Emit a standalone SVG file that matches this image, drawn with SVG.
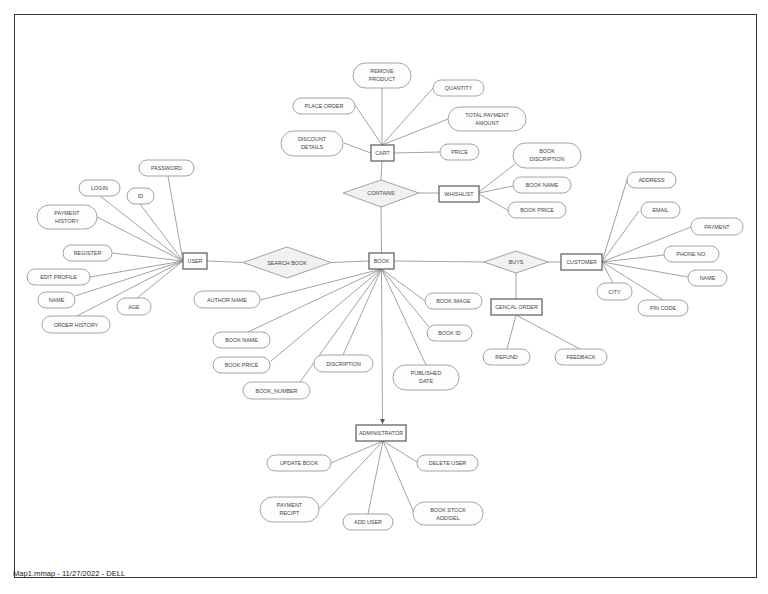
<svg xmlns="http://www.w3.org/2000/svg" width="768" height="594" viewBox="0 0 768 594">
<style>
.bg{fill:#ffffff}
.frame{fill:none;stroke:#333;stroke-width:1}
.pill{fill:#fdfdfd;stroke:#9a9a9a;stroke-width:0.9}
.ent{fill:#ffffff;stroke:#666;stroke-width:1.3}
.rel{fill:#f1f1f1;stroke:#9a9a9a;stroke-width:0.9}
.ln{stroke:#8a8a8a;stroke-width:0.8;fill:none}
text{font-family:"Liberation Sans",Arial,sans-serif;font-size:5.4px;fill:#444;text-anchor:middle}
.foot{font-size:7.6px;fill:#222;text-anchor:start}
</style>
<defs>
<marker id="arr" markerWidth="6" markerHeight="6" refX="5" refY="3" orient="auto" markerUnits="userSpaceOnUse">
<path d="M0,0.5 L5,3 L0,5.5 Z" fill="#555"/>
</marker>
</defs>
<rect class="bg" x="0" y="0" width="768" height="594"/>
<rect class="frame" x="14.5" y="14.5" width="742" height="563"/>
<text class="foot" x="13" y="576">Map1.mmap - 11/27/2022 - DELL</text>

<g id="connectors">
<!-- cart -->
<line class="ln" x1="382" y1="88" x2="382" y2="145"/>
<line class="ln" x1="355" y1="105" x2="382" y2="145"/>
<line class="ln" x1="433" y1="88" x2="382" y2="145"/>
<line class="ln" x1="448" y1="119" x2="382" y2="145"/>
<line class="ln" x1="344" y1="143" x2="371" y2="153"/>
<line class="ln" x1="394" y1="153" x2="440" y2="152"/>
<line class="ln" x1="382" y1="161" x2="381" y2="180"/>
<!-- contains / whishlist -->
<line class="ln" x1="419" y1="193" x2="439" y2="193"/>
<line class="ln" x1="479" y1="192" x2="515" y2="164"/>
<line class="ln" x1="479" y1="193" x2="513" y2="186"/>
<line class="ln" x1="479" y1="194" x2="509" y2="211"/>
<line class="ln" x1="381" y1="207" x2="381.5" y2="253"/>
<!-- user / search book / book -->
<line class="ln" x1="207" y1="261" x2="243" y2="262.5"/>
<line class="ln" x1="331" y1="262.5" x2="369" y2="261"/>
<line class="ln" x1="394" y1="261" x2="484" y2="262"/>
<line class="ln" x1="548" y1="262" x2="561" y2="262"/>
<line class="ln" x1="516" y1="273" x2="516" y2="299"/>
<line class="ln" x1="516" y1="315" x2="507" y2="349"/>
<line class="ln" x1="516" y1="315" x2="580" y2="349"/>
<!-- book attributes -->
<line class="ln" x1="381.5" y1="269" x2="260" y2="300"/>
<line class="ln" x1="381.5" y1="269" x2="248" y2="332"/>
<line class="ln" x1="381.5" y1="269" x2="271" y2="361"/>
<line class="ln" x1="381.5" y1="269" x2="300" y2="382"/>
<line class="ln" x1="381.5" y1="269" x2="343" y2="355"/>
<line class="ln" x1="381.5" y1="269" x2="425" y2="301"/>
<line class="ln" x1="381.5" y1="269" x2="429" y2="327"/>
<line class="ln" x1="381.5" y1="269" x2="426" y2="365"/>
<line class="ln" x1="381.5" y1="269" x2="382.5" y2="424" marker-end="url(#arr)"/>
<!-- administrator -->
<line class="ln" x1="383" y1="441" x2="331" y2="463"/>
<line class="ln" x1="383" y1="441" x2="417" y2="462"/>
<line class="ln" x1="383" y1="441" x2="319" y2="509"/>
<line class="ln" x1="383" y1="441" x2="368" y2="514"/>
<line class="ln" x1="383" y1="441" x2="414" y2="513"/>
<!-- user attributes -->
<line class="ln" x1="183" y1="261" x2="168" y2="176"/>
<line class="ln" x1="183" y1="261" x2="100" y2="196"/>
<line class="ln" x1="183" y1="261" x2="140" y2="204"/>
<line class="ln" x1="183" y1="261" x2="97" y2="217"/>
<line class="ln" x1="183" y1="261" x2="112" y2="253"/>
<line class="ln" x1="183" y1="261" x2="90" y2="277"/>
<line class="ln" x1="183" y1="261" x2="75" y2="296"/>
<line class="ln" x1="183" y1="261" x2="75" y2="317"/>
<line class="ln" x1="183" y1="261" x2="137" y2="298"/>
<!-- customer attributes -->
<line class="ln" x1="602" y1="262" x2="627" y2="180"/>
<line class="ln" x1="602" y1="262" x2="639" y2="211"/>
<line class="ln" x1="602" y1="262" x2="691" y2="227"/>
<line class="ln" x1="602" y1="262" x2="664" y2="255"/>
<line class="ln" x1="602" y1="262" x2="688" y2="277"/>
<line class="ln" x1="602" y1="262" x2="663" y2="300"/>
<line class="ln" x1="602" y1="262" x2="613" y2="283"/>
</g>

<!-- entities -->
<g id="cart"><rect class="ent" x="371" y="145" width="23" height="16"/><text x="382.5" y="155">CART</text></g>
<g id="whishlist"><rect class="ent" x="439" y="186" width="40" height="16"/><text x="459" y="196">WHISHLIST</text></g>
<g id="user"><rect class="ent" x="183" y="253" width="24" height="16"/><text x="195" y="263">USER</text></g>
<g id="book"><rect class="ent" x="369" y="253" width="25" height="16"/><text x="381.5" y="263">BOOK</text></g>
<g id="customer"><rect class="ent" x="561" y="254" width="41" height="16"/><text x="581.5" y="264">CUSTOMER</text></g>
<g id="cencal-order"><rect class="ent" x="491" y="299" width="51" height="16"/><text x="516.5" y="309">CENCAL ORDER</text></g>
<g id="administrator"><rect class="ent" x="356" y="425" width="50" height="16"/><text x="381" y="435">ADMINISTRATOR</text></g>

<!-- relationships -->
<g id="contains"><polygon class="rel" points="343,193 381,180 419,193 381,207"/><text x="381" y="195">CONTAINS</text></g>
<g id="search-book"><polygon class="rel" points="243,262.5 287,247 331,262.5 287,278"/><text x="287" y="264.5">SEARCH BOOK</text></g>
<g id="buys"><polygon class="rel" points="484,262 516,251 548,262 516,273"/><text x="516" y="264">BUYS</text></g>

<!-- cart attributes -->
<g id="remove-product"><rect class="pill" x="353" y="63" width="58" height="25" rx="12.5"/><text x="382" y="73">REMOVE</text><text x="382" y="81">PRODUCT</text></g>
<g id="quantity"><rect class="pill" x="433" y="80" width="51" height="16" rx="8"/><text x="458.5" y="90">QUANTITY</text></g>
<g id="place-order"><rect class="pill" x="293" y="98" width="62" height="16" rx="8"/><text x="324" y="108">PLACE ORDER</text></g>
<g id="total-payment"><rect class="pill" x="448" y="107" width="78" height="24" rx="12"/><text x="487" y="117">TOTAL PAYMENT</text><text x="487" y="125">AMOUNT</text></g>
<g id="discount-details"><rect class="pill" x="281" y="131" width="62" height="25" rx="12.5"/><text x="312" y="141">DISCOUNT</text><text x="312" y="149">DETAILS</text></g>
<g id="price"><rect class="pill" x="440" y="144" width="39" height="16" rx="8"/><text x="459.5" y="154">PRICE</text></g>

<!-- whishlist attributes -->
<g id="wl-book-discription"><rect class="pill" x="513" y="143" width="68" height="25" rx="12.5"/><text x="547" y="153">BOOK</text><text x="547" y="161">DISCRIPTION</text></g>
<g id="wl-book-name"><rect class="pill" x="513" y="177" width="58" height="16" rx="8"/><text x="542" y="187">BOOK NAME</text></g>
<g id="wl-book-price"><rect class="pill" x="508" y="202" width="58" height="16" rx="8"/><text x="537" y="212">BOOK PRICE</text></g>

<!-- user attributes -->
<g id="password"><rect class="pill" x="139" y="160" width="55" height="16" rx="8"/><text x="166.5" y="170">PASSWORD</text></g>
<g id="login"><rect class="pill" x="79" y="180" width="41" height="16" rx="8"/><text x="99.5" y="190">LOGIN</text></g>
<g id="id"><rect class="pill" x="127" y="188" width="27" height="16" rx="8"/><text x="140.5" y="198">ID</text></g>
<g id="payment-history"><rect class="pill" x="37" y="205" width="60" height="24" rx="12"/><text x="67" y="215">PAYMENT</text><text x="67" y="223">HISTORY</text></g>
<g id="register"><rect class="pill" x="63" y="245" width="49" height="16" rx="8"/><text x="87.5" y="255">REGISTER</text></g>
<g id="edit-profile"><rect class="pill" x="27" y="269" width="63" height="16" rx="8"/><text x="58.5" y="279">EDIT PROFILE</text></g>
<g id="user-name"><rect class="pill" x="38" y="292" width="37" height="16" rx="8"/><text x="56.5" y="302">NAME</text></g>
<g id="age"><rect class="pill" x="117" y="298" width="34" height="17" rx="8.5"/><text x="134" y="308.5">AGE</text></g>
<g id="order-history"><rect class="pill" x="42" y="316" width="68" height="17" rx="8.5"/><text x="76" y="326.5">ORDER HISTORY</text></g>

<!-- book attributes -->
<g id="author-name"><rect class="pill" x="194" y="291" width="66" height="17" rx="8.5"/><text x="227" y="301.5">AUTHOR NAME</text></g>
<g id="book-name"><rect class="pill" x="213" y="332" width="57" height="16" rx="8"/><text x="241.5" y="342">BOOK NAME</text></g>
<g id="book-price"><rect class="pill" x="213" y="357" width="57" height="16" rx="8"/><text x="241.5" y="367">BOOK PRICE</text></g>
<g id="book-number"><rect class="pill" x="243" y="382" width="67" height="17" rx="8.5"/><text x="276.5" y="392.5">BOOK_NUMBER</text></g>
<g id="discription"><rect class="pill" x="314" y="355" width="59" height="17" rx="8.5"/><text x="343.5" y="365.5">DISCRIPTION</text></g>
<g id="book-image"><rect class="pill" x="425" y="293" width="57" height="16" rx="8"/><text x="453.5" y="303">BOOK IMAGE</text></g>
<g id="book-id"><rect class="pill" x="427" y="325" width="45" height="16" rx="8"/><text x="449.5" y="335">BOOK ID</text></g>
<g id="published-date"><rect class="pill" x="393" y="365" width="66" height="25" rx="12.5"/><text x="426" y="375">PUBLISHED</text><text x="426" y="383">DATE</text></g>

<!-- customer attributes -->
<g id="address"><rect class="pill" x="627" y="172" width="49" height="16" rx="8"/><text x="651.5" y="182">ADDRESS</text></g>
<g id="email"><rect class="pill" x="641" y="202" width="39" height="16" rx="8"/><text x="660.5" y="212">EMAIL</text></g>
<g id="payment"><rect class="pill" x="691" y="218" width="52" height="17" rx="8.5"/><text x="717" y="228.5">PAYMENT</text></g>
<g id="phone-no"><rect class="pill" x="664" y="246" width="55" height="16" rx="8"/><text x="691.5" y="256">PHONE NO.</text></g>
<g id="customer-name"><rect class="pill" x="688" y="270" width="39" height="16" rx="8"/><text x="707.5" y="280">NAME</text></g>
<g id="city"><rect class="pill" x="597" y="283" width="35" height="17" rx="8.5"/><text x="614.5" y="293.5">CITY</text></g>
<g id="pin-code"><rect class="pill" x="638" y="300" width="50" height="16" rx="8"/><text x="663" y="310">PIN CODE</text></g>

<!-- cencal order attributes -->
<g id="refund"><rect class="pill" x="483" y="349" width="47" height="16" rx="8"/><text x="506.5" y="359">REFUND</text></g>
<g id="feedback"><rect class="pill" x="555" y="349" width="52" height="16" rx="8"/><text x="581" y="359">FEEDBACK</text></g>

<!-- administrator attributes -->
<g id="update-book"><rect class="pill" x="267" y="455" width="64" height="16" rx="8"/><text x="299" y="465">UPDATE BOOK</text></g>
<g id="delete-user"><rect class="pill" x="417" y="455" width="61" height="16" rx="8"/><text x="447.5" y="465">DELETE USER</text></g>
<g id="payment-recipt"><rect class="pill" x="260" y="497" width="59" height="25" rx="12.5"/><text x="289.5" y="507">PAYMENT</text><text x="289.5" y="515">RECIPT</text></g>
<g id="add-user"><rect class="pill" x="343" y="514" width="50" height="16" rx="8"/><text x="368" y="524">ADD USER</text></g>
<g id="book-stock"><rect class="pill" x="413" y="502" width="70" height="23" rx="11.5"/><text x="448" y="511.5">BOOK STOCK</text><text x="448" y="519.5">ADD/DEL</text></g>
</svg>
